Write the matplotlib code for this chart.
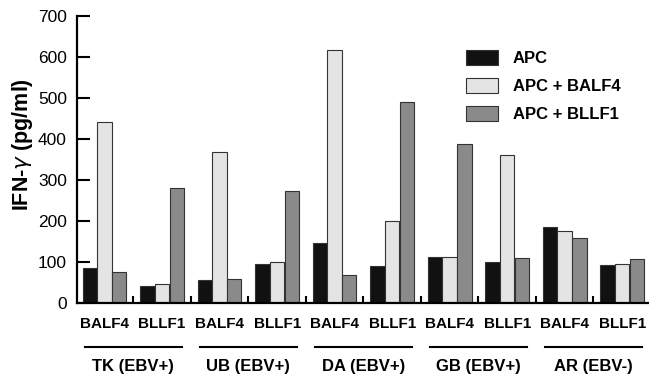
import numpy as np
import matplotlib.pyplot as plt
from matplotlib.transforms import blended_transform_factory

plt.rcParams['font.family'] = ['Liberation Sans', 'DejaVu Sans']

antigenos = ['BALF4', 'BLLF1'] * 5
doadores = ['TK (EBV+)', 'UB (EBV+)', 'DA (EBV+)', 'GB (EBV+)', 'AR (EBV-)']
apc = [87, 43, 57, 96, 148, 91, 112, 100, 186, 93]
apc_balf4 = [441, 46, 369, 101, 616, 200, 113, 360, 175, 95]
apc_bllf1 = [76, 280, 60, 273, 68, 489, 389, 110, 158, 108]

series = [('APC', apc, '#111111'),
          ('APC + BALF4', apc_balf4, '#e4e4e4'),
          ('APC + BLLF1', apc_bllf1, '#8a8a8a')]

fig = plt.figure(figsize=(6.49, 3.75), dpi=100)
ax = fig.add_axes([0.118, 0.191, 0.882, 0.767])

x = np.arange(len(antigenos))
w = 0.25
for k, (nome, vals, cor) in enumerate(series):
    ax.bar(x + (k - 1) * 0.255, vals, w, color=cor, edgecolor='#333333',
           linewidth=0.8, label=nome)

ax.set_xlim(-0.487, 9.466)
ax.set_ylim(0, 700)
ax.set_yticks(range(0, 701, 100))
ax.tick_params(axis='y', direction='in', length=9.5, width=1.5, labelsize=12.5, pad=7)
ax.set_xticks(x)
ax.set_xticklabels(antigenos, fontsize=11, fontweight='bold')
ax.tick_params(axis='x', length=0, pad=10)
ax.set_xticks(x[:-1] + 0.5, minor=True)
ax.tick_params(axis='x', which='minor', direction='in', length=5, width=1.5)

for s in ['top', 'right']:
    ax.spines[s].set_visible(False)
for s in ['left', 'bottom']:
    ax.spines[s].set_linewidth(1.6)

trans = blended_transform_factory(ax.transData, ax.transAxes)
for i, d in enumerate(doadores):
    c = 2 * i + 0.5
    ax.plot([c - 0.84, c + 0.84], [-0.151, -0.151], color='black', lw=1.5,
            transform=trans, clip_on=False)
    ax.text(c, -0.2205, d, transform=trans, ha='center', va='center',
            fontsize=12, fontweight='bold')

fig.text(22.5 / 649, 1 - 145 / 375, 'IFN-$\\gamma$ (pg/ml)', rotation=90,
         ha='center', va='center', fontsize=15.5, fontweight='bold')

ax.legend(loc='upper left', bbox_to_anchor=(466 / 649, 1 - 50 / 375),
          bbox_transform=fig.transFigure, frameon=False, borderaxespad=0,
          borderpad=0, prop={'weight': 'bold', 'size': 12},
          handlelength=1.92, handleheight=1.02, handletextpad=0.9,
          labelspacing=0.7)

fig.savefig('out.png', dpi=100)
